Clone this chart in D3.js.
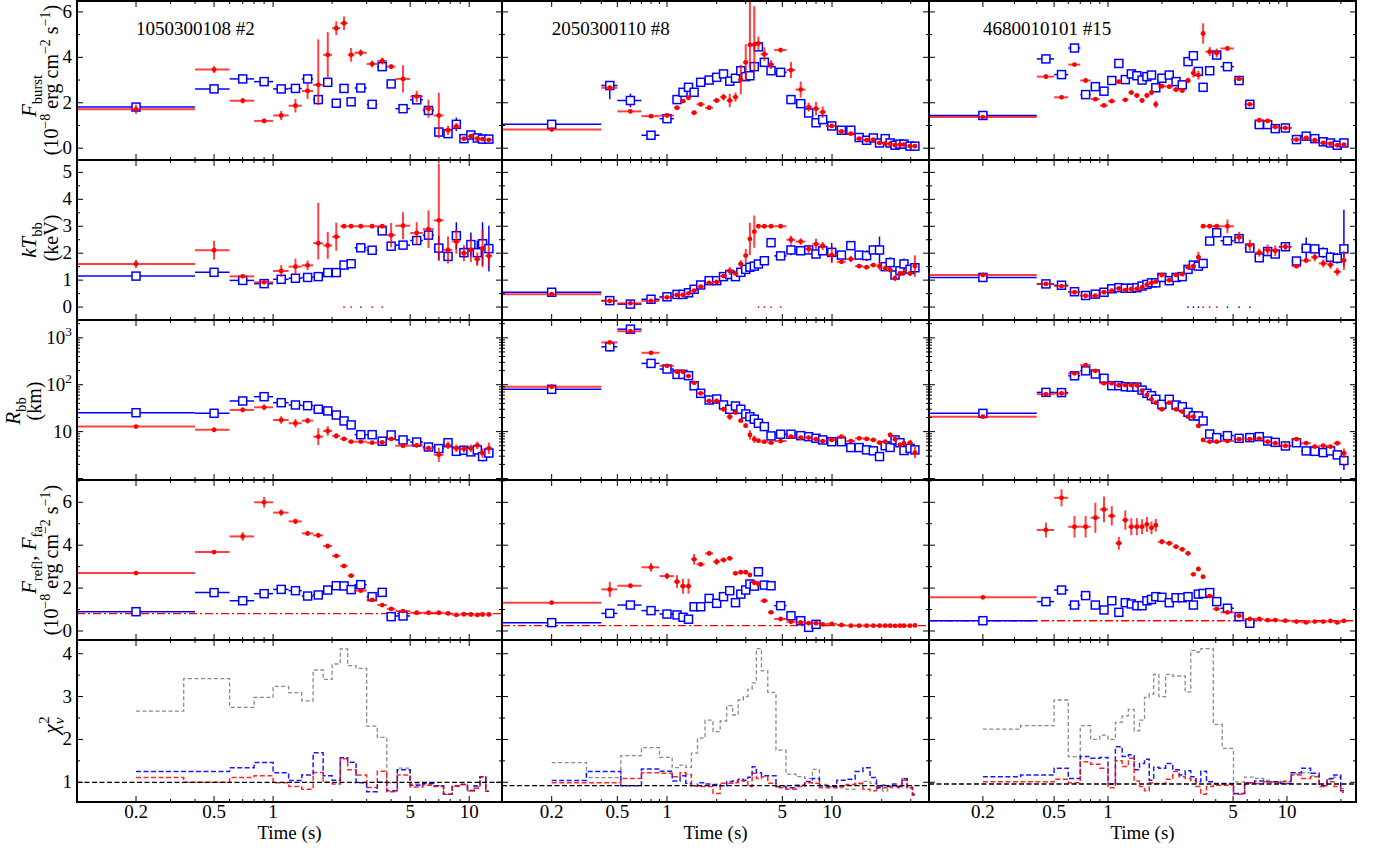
<!DOCTYPE html>
<html><head><meta charset="utf-8">
<script src="https://cdn.jsdelivr.net/npm/d3@7"></script>
<style>
body{margin:0;background:#fff}
svg{display:block}
text{font-family:"Liberation Serif","DejaVu Serif",serif;fill:#000}
</style></head>
<body><svg id="chart" width="1384" height="854"></svg>
<script>
// ---------- burst 1050300108 #2 ----------
const t2  = [0.2,0.5,0.7,0.9,1.1,1.3,1.5,1.7,1.9,2.1,2.3,2.5,2.8,3.2,3.6,4.0,4.6,5.4,6.2,7.0,7.8,8.6,9.4,10.2,11.0,11.7,12.6];
const dt2 = [0.2,0.1,0.1,0.1,0.1,0.1,0.1,0.1,0.1,0.1,0.1,0.1,0.2,0.2,0.2,0.2,0.4,0.4,0.4,0.4,0.4,0.4,0.4,0.4,0.4,0.3,0.5];
const fb2Red     = [1.71,3.46,2.09,1.20,1.44,1.87,2.52,2.79,4.11,5.28,5.50,4.11,4.20,3.71,3.84,3.59,3.05,2.28,1.74,1.44,0.79,0.96,0.42,0.53,0.42,0.40,0.37];
const fb2RedErr  = [0.2,0.15,0.12,0.1,0.2,0.3,0.35,[0.9,2.0],1.0,0.3,0.3,0.3,0.15,0.15,0.15,0.1,0.6,0.25,0.4,1.0,0.2,0.15,0.05,0.08,0.05,0.08,0.06];
const fb2Blue    = [1.81,2.61,3.05,2.93,2.61,2.63,3.05,2.14,2.90,1.98,2.63,2.04,2.65,1.93,3.59,2.83,1.74,2.13,1.66,0.71,0.64,1.05,0.42,0.58,0.45,0.40,0.40];
const fb2BlueErr = [0.05,0.06,0.06,0.06,0.06,0.08,0.1,0.1,0.08,0.06,0.08,0.06,0.08,0.06,0.1,0.08,0.06,0.15,0.1,0.06,0.1,0.3,0.06,0.12,0.08,0.2,0.15];
const kt2Red     = [1.60,2.11,1.14,0.92,1.34,1.50,1.55,2.37,2.29,2.61,3.0,3.0,3.0,3.0,3.0,2.67,3.02,2.75,2.89,3.22,2.12,2.43,2.00,2.12,1.78,2.18,1.90];
const kt2RedErr  = [0.15,0.35,0.05,0.05,0.22,0.3,0.18,[0.6,1.5],0.5,0.52,0,0,0,0,0,0.45,0.5,0.4,0.7,[1.5,2.1],0.5,0.45,0.3,0.45,0.25,0.7,0.4];
const kt2Blue    = [1.15,1.29,0.99,0.87,1.03,1.07,1.10,1.13,1.28,1.28,1.56,1.61,2.20,2.11,2.83,2.26,2.30,2.47,2.67,2.19,1.88,2.65,2.02,2.32,2.02,2.35,2.17];
const kt2BlueErr = [0.03,0.03,0.03,0.03,0.03,0.03,0.03,0.03,0.03,0.03,0.05,0.05,0.08,0.08,0.1,0.08,0.08,0.1,0.1,0.45,0.12,0.5,0.2,0.45,0.45,0.8,0.85];
const kt2ZeroRed = [2.3,2.5,2.8,3.2,3.6];
const r2Red      = [12.8,10.9,29,33,17.7,15.1,17.1,7.8,10.3,8.1,7.0,6.1,6.1,5.8,5.9,7.0,5.0,5.1,4.4,3.2,5.1,4.4,4.3,4.4,5.1,3.47,4.4];
const r2RedDex   = [0.03,0.05,0.05,0.06,0.08,0.09,0.06,0.18,0.1,0.06,0.03,0.02,0.02,0.02,0.02,0.04,0.05,0.05,0.06,0.15,0.08,0.08,0.08,0.08,0.08,0.1,0.12];
const r2Blue     = [25.3,24.6,45,55.6,41.4,37,35.7,30,27.6,22.6,16.9,13.9,8.6,8.6,6.25,8.5,6.65,6.0,4.7,4.35,5.8,3.8,4.0,3.7,4.08,2.94,3.5];
const r2BlueDex  = [0.01,0.01,0.01,0.01,0.01,0.01,0.01,0.01,0.01,0.01,0.01,0.01,0.02,0.02,0.02,0.02,0.02,0.02,0.03,0.03,0.05,0.05,0.05,0.06,0.06,0.1,0.1];
const fr2Red     = [2.70,3.68,4.41,6.0,5.52,5.11,4.55,4.46,3.96,3.50,3.03,2.58,1.88,1.45,1.21,1.03,0.93,0.85,0.85,0.85,0.82,0.75,0.78,0.77,0.75,0.77,0.77];
const fr2RedErr  = [0.05,0.08,0.2,0.25,0.15,0.12,0.12,0.12,0.12,0.08,0.06,0.05,0.04,0.04,0.03,0.03,0.03,0.03,0.03,0.03,0.03,0.03,0.03,0.03,0.03,0.03,0.03];
const fr2Blue    = [0.90,1.79,1.41,1.74,1.94,1.88,1.63,1.68,1.91,2.11,2.10,1.93,2.16,1.60,1.80,0.67,0.70,null,null,null,null,null,null,null,null,null,null];
const fr2BlueErr = [0.04,0.04,0.04,0.04,0.04,0.04,0.04,0.04,0.04,0.04,0.04,0.04,0.04,0.04,0.04,0.04,0.04,0,0,0,0,0,0,0,0,0,0];
const fPers2 = 0.81;
const chiGrey2 = [2.66,3.42,2.75,2.98,3.24,3.09,2.90,3.62,3.40,3.76,4.11,3.72,3.66,2.31,2.05,0.99,1.33,0.96,0.96,0.92,0.72,0.90,0.95,0.80,0.90,1.13,0.79];
const chiBlue2 = [1.25,1.25,1.34,1.46,1.22,1.04,1.17,1.69,1.15,1.05,1.57,1.47,0.99,0.78,1.0,0.80,1.29,0.93,0.97,0.92,0.72,0.92,0.95,0.81,0.92,1.13,0.79];
const chiRed2  = [1.11,1.0,1.11,1.15,0.99,0.90,0.84,1.23,1.0,0.96,1.55,1.29,1.17,0.88,1.26,0.78,1.17,0.89,0.93,0.90,0.72,0.92,0.95,0.80,0.86,1.13,0.79];
const chiRef2 = 1.0;

// ---------- burst 2050300110 #8 ----------
const t8  = [0.2,0.45,0.6,0.8,1.0,1.15,1.25,1.35,1.46,1.6,1.8,2.0,2.2,2.4,2.6,2.8,3.0,3.18,3.38,3.58,3.89,4.27,4.88,5.64,6.46,7.22,8.0,8.78,9.96,11.4,13.0,14.6,16.2,17.8,19.4,21.0,22.5,24.1,25.8,27.3,29.7,31.8];
const dt8 = [0.2,0.05,0.1,0.1,0.1,0.05,0.05,0.05,0.06,0.09,0.1,0.1,0.1,0.1,0.1,0.1,0.1,0.09,0.1,0.1,0.2,0.18,0.42,0.35,0.45,0.35,0.4,0.4,0.75,0.7,0.8,0.8,0.8,0.8,0.8,0.75,0.75,0.8,0.8,0.75,1.1,0.9];
const fb8Red     = [0.82,2.66,1.62,1.41,1.44,1.78,2.07,2.22,1.56,1.93,1.78,2.10,2.25,2.10,2.25,3.02,3.78,4.55,4.55,4.61,4.14,3.68,4.32,3.44,2.58,1.81,1.74,1.59,0.98,0.74,0.64,0.42,0.35,0.38,0.23,0.20,0.20,0.13,0.16,0.16,0.09,0.09];
const fb8RedErr  = [0.05,0.1,0.05,0.05,0.05,0.06,0.06,0.08,0.08,0.1,0.1,0.1,0.15,0.3,0.2,0.65,0.8,[1.0,2.0],[1.2,1.7],0.3,0.3,0.2,0.1,0.35,0.35,0.2,0.3,0.25,0.05,0.05,0.05,0.05,0.04,0.04,0.04,0.04,0.04,0.04,0.04,0.04,0.04,0.04];
const fb8Blue    = [1.05,2.76,2.10,0.57,1.30,2.14,2.46,2.68,2.46,2.90,3.0,3.12,3.27,2.95,3.08,3.41,3.15,3.19,3.59,4.46,3.78,3.41,3.34,2.14,1.96,1.55,1.12,1.26,0.98,0.79,0.79,0.47,0.35,0.45,0.23,0.42,0.23,0.13,0.18,0.18,0.09,0.09];
const fb8BlueErr = [0.05,[0.6,0.15],0.3,0.06,0.06,0.06,0.06,0.06,0.06,0.06,0.06,0.06,0.06,0.06,0.06,0.06,0.06,0.06,0.06,0.06,0.06,0.06,0.06,0.06,0.06,0.06,0.06,0.06,0.05,0.05,0.05,0.05,0.05,0.05,0.05,0.05,0.05,0.05,0.04,0.04,0.04,0.04];
const kt8Red     = [0.48,0.23,0.14,0.23,0.36,0.45,0.45,0.51,0.61,0.76,0.90,0.93,1.15,1.34,1.25,1.60,1.91,2.53,2.80,3.0,3.0,3.0,3.0,2.50,2.43,2.16,2.34,2.27,1.93,1.68,1.78,1.52,1.48,1.56,1.52,1.44,1.38,1.07,1.25,1.28,1.25,1.52];
const kt8RedErr  = [0.03,0.02,0.02,0.02,0.03,0.03,0.03,0.04,0.04,0.05,0.05,0.05,0.06,0.15,0.08,0.15,0.25,0.6,0.6,0,0,0,0,0.15,0.12,0.15,0.2,0.15,0.3,0.08,0.12,0.08,0.08,0.08,0.15,0.1,0.1,0.1,0.1,0.1,0.1,0.4];
const kt8Blue    = [0.55,0.24,0.11,0.29,0.38,0.47,0.47,0.53,0.66,0.82,0.98,0.98,1.13,1.21,1.13,1.29,1.40,1.48,1.52,1.60,1.72,2.39,1.90,2.12,2.09,2.12,1.97,2.09,2.03,1.93,2.28,1.93,1.91,2.12,2.12,1.50,1.65,1.19,1.35,1.60,1.40,1.46];
const kt8BlueErr = [0.04,0.04,0.04,0.04,0.04,0.04,0.04,0.04,0.04,0.04,0.04,0.04,0.04,0.04,0.04,0.04,0.04,0.04,0.04,0.04,0.04,0.04,0.04,0.2,0.04,0.04,0.04,0.15,0.35,0.06,0.15,0.15,0.2,0.15,0.5,0.08,0.2,0.08,0.08,0.2,0.1,0.1];
const kt8ZeroRed = [3.58,3.89,4.27,4.88];
const r8Red      = [90.5,798,1380,480,253,189,189,153,110,65.5,45,45,30,20.8,25.7,17.1,13.4,8.5,6.9,6.4,6.1,5.8,6.3,7.8,7.45,7.45,6.9,6.3,6.65,7.8,6.3,7.2,7.0,6.65,5.8,6.1,8.5,6.9,5.2,5.66,5.8,3.57];
const r8RedDex   = [0.02,0.03,0.03,0.03,0.03,0.03,0.03,0.03,0.03,0.03,0.03,0.03,0.04,0.07,0.05,0.05,0.05,0.1,0.08,0.03,0.03,0.03,0.03,0.04,0.04,0.04,0.04,0.04,0.04,0.04,0.04,0.04,0.04,0.04,0.04,0.04,0.05,0.05,0.05,0.05,0.05,0.12];
const r8Blue     = [79.8,644,1530,285,216,166,166,156,95,65.5,47.2,49.6,37,30,35.2,30,23.8,20.8,18.4,15.1,12.8,8.1,8.8,8.8,8.2,7.8,7.2,6.65,6.1,6.1,4.57,4.57,4.08,3.9,2.94,5.0,4.6,6.65,5.8,3.95,4.4,4.08];
const r8BlueDex  = [0.02,0.1,0.03,0.02,0.02,0.02,0.02,0.02,0.02,0.02,0.02,0.02,0.02,0.02,0.02,0.02,0.02,0.02,0.02,0.02,0.02,0.02,0.02,0.02,0.02,0.02,0.02,0.02,0.02,0.02,0.02,0.02,0.02,0.02,0.02,0.02,0.02,0.02,0.02,0.02,0.02,0.02];
const fr8Red     = [1.32,1.94,2.11,2.97,2.56,2.30,2.09,2.09,3.34,3.11,3.62,3.23,3.31,3.39,2.69,2.74,2.74,2.61,2.25,2.19,1.41,0.87,0.56,0.43,0.40,0.36,0.36,0.31,0.33,0.28,0.25,0.25,0.25,0.25,0.25,0.25,0.25,0.24,0.25,0.25,0.25,0.26];
const fr8RedErr  = [0.03,0.35,0.08,0.2,0.15,0.3,0.35,0.35,0.25,0.1,0.12,0.15,0.1,0.1,0.08,0.08,0.08,0.05,0.05,0.05,0.05,0.04,0.03,0.03,0.03,0.03,0.03,0.03,0.03,0.03,0.03,0.03,0.03,0.03,0.03,0.03,0.03,0.03,0.03,0.03,0.03,0.03];
const fr8Blue    = [0.39,0.82,1.21,0.95,0.79,0.75,0.64,0.55,1.13,1.13,1.52,1.29,1.60,1.88,1.32,1.72,1.91,2.19,2.09,2.76,2.14,2.11,1.18,0.71,0.48,0.17,0.31,null,null,null,null,null,null,null,null,null,null,null,null,null,null,null];
const fr8BlueErr = [0.03,0.2,0.05,0.05,0.05,0.05,0.05,0.05,0.05,0.05,0.05,0.05,0.05,0.05,0.05,0.05,0.05,0.05,0.05,0.05,0.05,0.05,0.05,0.05,0.05,0.05,0.05,0,0,0,0,0,0,0,0,0,0,0,0,0,0,0];
const fPers8 = 0.25;
const chiGrey8 = [1.46,1.11,1.62,1.81,1.58,1.34,1.40,1.35,1.68,2.03,2.45,2.18,2.43,2.79,2.57,2.92,3.0,3.17,3.32,4.12,3.60,3.10,1.75,1.19,1.13,1.09,1.30,0.95,0.90,0.87,0.84,0.96,1.02,0.98,0.85,0.80,0.87,0.90,0.92,1.09,0.90,0.70];
const chiBlue8 = [1.04,1.25,0.92,1.31,1.26,1.03,1.15,0.98,0.92,0.99,0.96,0.95,0.92,1.02,1.03,1.07,1.05,1.12,1.36,1.22,1.15,1.15,0.90,0.87,0.93,1.02,1.09,0.92,0.90,1.05,1.07,1.25,1.34,1.11,0.87,0.93,0.90,0.96,0.90,1.08,0.87,0.72];
const chiRed8  = [0.99,0.99,1.09,1.22,1.21,1.13,1.22,1.18,0.92,0.90,0.90,0.74,0.98,0.98,0.99,1.04,1.02,0.90,1.21,1.09,1.13,0.98,0.87,0.84,0.90,0.99,0.98,0.87,0.87,0.90,0.95,0.98,0.84,0.80,0.90,0.87,0.90,0.90,0.87,1.05,0.87,0.70];
const chiRef8 = 0.92;

// ---------- burst 4680010101 #15 ----------
const t15  = [0.2,0.45,0.55,0.65,0.75,0.85,0.95,1.05,1.15,1.25,1.35,1.45,1.55,1.65,1.75,1.85,2.0,2.2,2.4,2.6,2.8,3.0,3.2,3.4,3.7,4.05,4.65,5.4,6.2,7.0,7.8,8.6,9.8,11.3,12.8,14.3,15.95,17.5,19.1,20.8];
const dt15 = [0.2,0.05,0.05,0.05,0.05,0.05,0.05,0.05,0.05,0.05,0.05,0.05,0.05,0.05,0.05,0.05,0.1,0.1,0.1,0.1,0.1,0.1,0.1,0.1,0.2,0.2,0.4,0.35,0.4,0.4,0.4,0.4,0.8,0.7,0.8,0.7,0.9,0.7,0.9,0.7];
const fb15Red     = [1.37,3.15,2.24,3.68,2.98,2.16,1.88,2.07,2.93,2.13,2.45,2.32,2.10,2.32,2.45,1.93,2.73,2.71,2.58,2.54,2.98,3.31,3.22,5.05,4.25,4.19,4.39,3.05,1.93,1.23,1.20,0.93,0.89,0.38,0.45,0.35,0.23,0.20,0.13,0.16];
const fb15RedErr  = [0.05,0.1,0.06,0.06,0.06,0.06,0.06,0.06,0.08,0.06,0.1,0.1,0.1,0.12,0.12,0.15,0.1,0.08,0.1,0.1,0.12,0.2,0.2,0.45,0.2,0.2,0.1,0.08,0.05,0.04,0.04,0.04,0.04,0.04,0.04,0.04,0.04,0.04,0.04,0.04];
const fb15Blue    = [1.44,3.93,3.24,4.41,2.36,2.71,2.51,2.98,3.73,3.02,3.27,3.19,3.0,3.15,3.22,2.66,3.08,3.22,2.93,2.79,3.81,4.07,3.38,2.68,3.41,4.10,3.59,2.98,1.93,1.04,1.04,0.86,0.89,0.38,0.53,0.42,0.28,0.23,0.13,0.23];
const fb15BlueErr = [0.05,0.08,0.08,0.06,0.06,0.06,0.06,0.06,0.06,0.06,0.06,0.06,0.06,0.06,0.06,0.06,0.06,0.06,0.06,0.06,0.06,0.06,0.06,0.06,0.06,0.06,0.06,0.06,0.06,0.04,0.04,0.04,0.04,0.04,0.04,0.04,0.04,0.04,0.04,0.04];
const kt15Red     = [1.19,0.86,0.78,0.55,0.42,0.42,0.55,0.61,0.69,0.63,0.67,0.67,0.73,0.83,0.90,0.94,1.19,1.00,1.19,1.22,1.48,1.52,1.85,3.0,3.0,3.0,3.0,2.59,2.30,2.02,2.12,2.09,2.24,1.52,1.73,1.85,1.62,1.57,1.31,1.73];
const kt15RedErr  = [0.05,0.03,0.03,0.03,0.03,0.03,0.03,0.03,0.03,0.03,0.03,0.03,0.03,0.04,0.04,0.04,0.06,0.05,0.06,0.06,0.08,0.08,0.2,0,0,0,0.25,0.2,0.2,0.15,0.2,0.2,0.15,0.08,0.1,0.15,0.15,0.15,0.15,0.35];
const kt15Blue    = [1.10,0.86,0.81,0.57,0.43,0.48,0.55,0.68,0.72,0.70,0.70,0.72,0.78,0.84,0.90,0.90,1.10,0.98,1.10,1.13,1.40,1.56,1.52,1.62,2.45,2.76,2.46,2.54,2.19,1.83,2.06,1.97,2.24,1.71,2.18,2.16,2.02,1.85,1.81,2.16];
const kt15BlueErr = [0.03,0.03,0.03,0.03,0.03,0.03,0.03,0.03,0.03,0.03,0.03,0.03,0.03,0.03,0.03,0.03,0.03,0.03,0.03,0.03,0.03,0.03,0.03,0.03,0.05,0.05,0.05,0.05,0.05,0.05,0.06,0.06,0.08,0.08,0.4,0.15,0.2,0.2,0.2,[0.65,1.45]];
const kt15ZeroRed  = [3.4,3.7,4.05];
const kt15ZeroBlue = [2.8,3.0,3.2,4.65,5.4,6.2];
const r15Red      = [20.8,63,65,175,262,198,107,107,97.5,98,98,97.5,74.5,60.3,48.9,41.4,29.9,41.4,29.9,26.7,20.8,20.8,13.2,6.65,6.1,6.1,6.3,6.9,6.9,7.1,6.1,5.66,5.0,6.9,5.66,4.8,5.0,4.8,5.66,3.47];
const r15RedDex   = [0.02,0.02,0.02,0.03,0.03,0.03,0.03,0.03,0.02,0.02,0.02,0.02,0.02,0.02,0.02,0.02,0.02,0.02,0.02,0.02,0.02,0.02,0.03,0.03,0.02,0.02,0.02,0.02,0.02,0.02,0.03,0.03,0.03,0.04,0.04,0.04,0.04,0.04,0.05,0.1];
const r15Blue     = [24.5,68.7,68,155,198,169,137,95.5,95.5,90.6,89,89,77,65.5,58.4,48.9,38.2,48.9,36.9,34,25.8,21.6,21.6,16.9,8.9,7.45,8.2,7.2,7.45,7.8,6.3,5.9,4.95,5.8,3.88,3.8,3.57,3.88,3.19,2.42];
const r15BlueDex  = [0.01,0.02,0.02,0.02,0.02,0.02,0.02,0.02,0.02,0.02,0.02,0.02,0.02,0.02,0.02,0.02,0.02,0.02,0.02,0.02,0.02,0.02,0.02,0.02,0.02,0.02,0.02,0.02,0.02,0.02,0.02,0.02,0.03,0.03,0.03,0.03,0.03,0.03,0.04,[0.2,0.05]];
const fr15Red     = [1.57,4.71,6.21,4.86,4.86,5.28,5.67,5.37,4.09,5.17,4.86,4.86,4.86,4.97,4.81,4.93,4.16,4.09,3.93,3.81,3.62,2.64,2.89,2.53,1.63,1.03,0.87,0.71,0.56,0.56,0.51,0.51,0.48,0.44,0.40,0.44,0.44,0.47,0.40,0.47];
const fr15RedErr  = [0.03,0.35,0.4,0.5,0.5,0.7,0.6,0.45,0.3,0.45,0.4,0.4,0.35,0.35,0.3,0.3,0.12,0.1,0.1,0.1,0.1,0.08,0.08,0.08,0.06,0.05,0.04,0.03,0.03,0.03,0.03,0.03,0.03,0.03,0.03,0.03,0.03,0.03,0.03,0.03];
const fr15Blue    = [0.48,1.37,1.91,1.21,1.65,1.21,0.98,1.41,0.87,1.32,1.26,1.18,1.18,1.41,1.47,1.60,1.57,1.32,1.55,1.55,1.60,1.21,1.72,1.75,1.79,1.37,1.06,0.67,0.36,null,null,null,null,null,null,null,null,null,null,null];
const fr15BlueErr = [0.03,0.06,0.06,0.06,0.06,0.06,0.06,0.06,0.06,0.06,0.06,0.06,0.06,0.06,0.06,0.06,0.06,0.06,0.06,0.06,0.06,0.06,0.06,0.06,0.06,0.06,0.05,0.05,0.05,0,0,0,0,0,0,0,0,0,0,0];
const fPers15 = 0.48;
const chiGrey15 = [2.24,2.32,2.92,1.60,2.32,2.0,2.10,2.0,2.40,2.55,2.70,2.20,2.45,2.98,3.06,3.52,3.0,3.52,3.48,3.48,3.11,4.08,4.04,4.12,4.12,2.35,1.79,1.01,1.12,1.09,1.05,1.01,1.03,1.19,1.22,1.15,0.93,1.07,1.12,0.85];
const chiBlue15 = [1.13,1.17,1.33,1.09,1.60,1.56,1.58,0.96,1.83,1.60,1.64,1.29,1.44,1.54,1.05,1.35,1.33,1.44,1.29,1.17,1.27,1.13,1.01,1.26,1.01,0.97,0.97,0.74,0.99,1.03,1.01,1.01,0.97,1.22,1.33,1.21,0.92,1.09,1.17,0.80];
const chiRed15  = [1.01,1.01,1.07,0.99,1.48,1.42,1.33,0.87,1.50,1.37,1.56,1.03,0.90,0.80,0.99,0.97,0.97,1.07,1.25,1.13,1.09,1.05,0.90,0.72,0.90,0.93,0.93,0.72,0.99,0.97,1.01,0.99,1.01,1.17,1.09,1.13,0.90,1.01,0.90,0.77];
const chiRef15 = 0.96;

// ---------- axis text ----------
const burstTitles = ["1050300108 #2", "2050300110 #8", "4680010101 #15"];
const timeTickLabels = [0.2, 0.5, 1, 5, 10];
const xAxisTitle = "Time (s)";

// ---------- assemble per-burst tables ----------
const bursts = [
  {t:t2, dt:dt2, fb:[fb2Red,fb2RedErr,fb2Blue,fb2BlueErr], kt:[kt2Red,kt2RedErr,kt2Blue,kt2BlueErr],
   ktZero:{red:kt2ZeroRed, blue:[]}, r:[r2Red,r2RedDex,r2Blue,r2BlueDex], fr:[fr2Red,fr2RedErr,fr2Blue,fr2BlueErr],
   fPers:fPers2, chi:[chiGrey2,chiBlue2,chiRed2], chiRef:chiRef2},
  {t:t8, dt:dt8, fb:[fb8Red,fb8RedErr,fb8Blue,fb8BlueErr], kt:[kt8Red,kt8RedErr,kt8Blue,kt8BlueErr],
   ktZero:{red:kt8ZeroRed, blue:[]}, r:[r8Red,r8RedDex,r8Blue,r8BlueDex], fr:[fr8Red,fr8RedErr,fr8Blue,fr8BlueErr],
   fPers:fPers8, chi:[chiGrey8,chiBlue8,chiRed8], chiRef:chiRef8},
  {t:t15, dt:dt15, fb:[fb15Red,fb15RedErr,fb15Blue,fb15BlueErr], kt:[kt15Red,kt15RedErr,kt15Blue,kt15BlueErr],
   ktZero:{red:kt15ZeroRed, blue:kt15ZeroBlue}, r:[r15Red,r15RedDex,r15Blue,r15BlueDex], fr:[fr15Red,fr15RedErr,fr15Blue,fr15BlueErr],
   fPers:fPers15, chi:[chiGrey15,chiBlue15,chiRed15], chiRef:chiRef15}
];

// ---------- layout ----------
const colX = [[77,502],[502,929],[929,1356]];
const rowY = [[1,160],[160,320],[320,480],[480,640],[640,802]];
const timeDomains = [[0.1,14.7],[0.1,38.7],[0.1,24.3]];
const rows = [
  {key:'fb',  log:false, domain:[-0.52,6.48], major:[0,2,4,6],   minor:[1,3,5]},
  {key:'kt',  log:false, domain:[-0.48,5.46], major:[0,1,2,3,4,5], minor:[0.5,1.5,2.5,3.5,4.5]},
  {key:'r',   log:true,  domain:[0.93,2400],  major:[1,10,100,1000], minor:null},
  {key:'fr',  log:false, domain:[-0.42,7.04], major:[0,2,4,6],   minor:[1,3,5,7]},
  {key:'chi', log:false, domain:[0.54,4.32],  major:[1,2,3,4],   minor:[1.5,2.5,3.5]}
];

const RED = '#ff0000', BLUE = '#0000ff';
const svg = d3.select('#chart');
const defs = svg.append('defs');
const plotLayer = svg.append('g');
const frameLayer = svg.append('g');

function errPair(e){ return Array.isArray(e) ? e : [e, e]; }

function rich(sel, parts, fs){
  let cur = 0;
  parts.forEach(p => {
    let target = 0, size = fs;
    if (p.k === 'sub') { target = fs*0.28; size = fs*0.7; }
    if (p.k === 'sup') { target = -fs*0.42; size = fs*0.7; }
    const ts = sel.append('tspan').text(p.s).attr('font-size', size);
    if (target - cur !== 0) ts.attr('dy', target - cur);
    if (p.dx) ts.attr('dx', p.dx);
    if (p.i) ts.attr('font-style', 'italic');
    cur = target;
  });
}

function drawPoints(g, x, y, b, vals, errs, color, isLog, marker){
  const pts = vals.map((v,i) => ({t:b.t[i], dt:b.dt[i], v, e:errPair(errs[i])})).filter(d => d.v != null);
  const left = x.range()[0] - 20;
  const eg = g.append('g').attr('stroke', color)
      .attr('stroke-width', marker === 'square' ? 1.5 : 2)
      .attr('stroke-opacity', marker === 'square' ? 1 : 0.75);
  eg.selectAll('line.h').data(pts).join('line')
    .attr('x1', d => d.t - d.dt > 0 ? x(d.t - d.dt) : left)
    .attr('x2', d => x(d.t + d.dt))
    .attr('y1', d => y(d.v)).attr('y2', d => y(d.v));
  eg.selectAll('line.v').data(pts.filter(d => d.e[0] > 0 || d.e[1] > 0)).join('line')
    .attr('x1', d => x(d.t)).attr('x2', d => x(d.t))
    .attr('y1', d => isLog ? y(d.v * Math.pow(10, -d.e[0])) : y(d.v - d.e[0]))
    .attr('y2', d => isLog ? y(d.v * Math.pow(10,  d.e[1])) : y(d.v + d.e[1]));
  if (marker === 'square') {
    g.append('g').selectAll('rect').data(pts).join('rect')
      .attr('x', d => x(d.t) - 4).attr('y', d => y(d.v) - 4)
      .attr('width', 8).attr('height', 8)
      .attr('fill', '#fff').attr('stroke', color).attr('stroke-width', 1.5);
  } else {
    g.append('g').selectAll('circle').data(pts).join('circle')
      .attr('cx', d => x(d.t)).attr('cy', d => y(d.v)).attr('r', 2.4).attr('fill', color);
  }
}

function stepPath(x, y, t, vals){
  let p = `M${x(t[0])},${y(vals[0])}`;
  for (let i = 1; i < t.length; i++) {
    const m = (t[i-1] + t[i]) / 2;
    p += `H${x(m)}V${y(vals[i])}`;
  }
  return p + `H${x(t[t.length-1])}`;
}

function logTickValues(lo, hi){
  const out = [];
  for (let d = -2; d <= 4; d++) for (let k = 1; k < 10; k++) {
    const v = +(k * Math.pow(10, d)).toPrecision(6);
    if (v > lo * 1.0001 && v < hi * 0.9999) out.push(v);
  }
  return out;
}

bursts.forEach((b, ci) => {
  const [x0, x1] = colX[ci];
  const x = d3.scaleLog().domain(timeDomains[ci]).range([x0, x1]);

  rows.forEach((row, ri) => {
    const [yTop, yBot] = rowY[ri];
    const y = (row.log ? d3.scaleLog() : d3.scaleLinear()).domain(row.domain).range([yBot, yTop]);
    const clipId = `clip-${ci}-${ri}`;
    defs.append('clipPath').attr('id', clipId).append('rect')
      .attr('x', x0).attr('y', yTop).attr('width', x1 - x0).attr('height', yBot - yTop);
    const g = plotLayer.append('g').attr('clip-path', `url(#${clipId})`);

    if (row.key === 'chi') {
      const [grey, blue, red] = b.chi;
      [[grey, '#8a8a8a', 1.3, '4,2.5', 1], [blue, BLUE, 1.5, '5,2.5', 0.9], [red, RED, 1.5, '5,2.5', 0.85]]
        .forEach(([vals, col, w, dash, op]) => {
          g.append('path').attr('d', stepPath(x, y, b.t, vals))
            .attr('fill', 'none').attr('stroke', col).attr('stroke-width', w)
            .attr('stroke-dasharray', dash).attr('stroke-opacity', op);
        });
      g.append('line').attr('x1', x0).attr('x2', x1)
        .attr('y1', y(b.chiRef)).attr('y2', y(b.chiRef))
        .attr('stroke', '#000').attr('stroke-width', 1.3).attr('stroke-dasharray', '5,2.5');
    } else {
      const [rv, re, bv, be] = b[row.key];
      if (row.key === 'fr') {
        g.append('line').attr('x1', x0).attr('x2', x1)
          .attr('y1', y(b.fPers)).attr('y2', y(b.fPers))
          .attr('stroke', RED).attr('stroke-width', 1.4).attr('stroke-dasharray', '8,3,2,3');
      }
      if (row.key === 'kt') {
        g.selectAll('circle.zb').data(b.ktZero.blue).join('circle')
          .attr('cx', d => x(d)).attr('cy', y(0)).attr('r', 0.9).attr('fill', BLUE);
        g.selectAll('circle.zr').data(b.ktZero.red).join('circle')
          .attr('cx', d => x(d)).attr('cy', y(0)).attr('r', 0.9).attr('fill', RED);
      }
      drawPoints(g, x, y, b, bv, be, BLUE, row.log, 'square');
      drawPoints(g, x, y, b, rv, re, RED, row.log, 'dot');
    }

    // ticks, pointing inwards on all four sides
    const f = frameLayer.append('g').attr('stroke', '#000').attr('stroke-width', 1);
    const xt = logTickValues(timeDomains[ci][0], timeDomains[ci][1]);
    xt.forEach(v => {
      const len = timeTickLabels.includes(v) ? 6 : 3;
      f.append('line').attr('x1', x(v)).attr('x2', x(v)).attr('y1', yBot).attr('y2', yBot - len);
      f.append('line').attr('x1', x(v)).attr('x2', x(v)).attr('y1', yTop).attr('y2', yTop + len);
    });
    const yMinor = row.log ? logTickValues(row.domain[0], row.domain[1]).filter(v => !row.major.includes(v)) : row.minor;
    const yMajor = row.major.filter(v => v > row.domain[0] && v < row.domain[1]);
    [[yMajor, 6], [yMinor.filter(v => v > row.domain[0] && v < row.domain[1]), 3]].forEach(([vals, len]) => {
      vals.forEach(v => {
        f.append('line').attr('x1', x0).attr('x2', x0 + len).attr('y1', y(v)).attr('y2', y(v));
        f.append('line').attr('x1', x1).attr('x2', x1 - len).attr('y1', y(v)).attr('y2', y(v));
      });
    });
    frameLayer.append('rect').attr('x', x0).attr('y', yTop).attr('width', x1 - x0).attr('height', yBot - yTop)
      .attr('fill', 'none').attr('stroke', '#000').attr('stroke-width', 2);

    // y tick labels on the first column only
    if (ci === 0) {
      yMajor.forEach(v => {
        if (row.log && v < 10) return;
        const tx = frameLayer.append('text').attr('x', 72).attr('y', y(v) + 6)
          .attr('text-anchor', 'end').attr('font-size', 19);
        if (row.log) {
          const e = Math.round(Math.log10(v));
          if (e === 1) tx.text('10');
          else rich(tx, [{s:'10'}, {s:String(e), k:'sup'}], 19);
        } else {
          tx.text(String(v));
        }
      });
    }

    // x tick labels and axis title on the bottom row
    if (ri === rows.length - 1) {
      timeTickLabels.forEach(v => {
        frameLayer.append('text').attr('x', x(v)).attr('y', 818)
          .attr('text-anchor', 'middle').attr('font-size', 19).text(String(v));
      });
      frameLayer.append('text').attr('x', (x0 + x1) / 2).attr('y', 839)
        .attr('text-anchor', 'middle').attr('font-size', 19).text(xAxisTitle);
    }
  });

  // burst identifier
  frameLayer.append('text').attr('x', x(0.2)).attr('y', 34.5)
    .attr('font-size', 19).text(burstTitles[ci]);
});

// y-axis titles (rotated)
const fluxUnit = [{s:'(10'}, {s:'\u22128', k:'sup'}, {s:' erg cm'}, {s:'\u22122', k:'sup'}, {s:' s'}, {s:'\u22121', k:'sup'}, {s:')'}];
const yTitles = [
  {x:36, y:96,  fs:21, parts:[{s:'F', i:true}, {s:'burst', k:'sub'}]},
  {x:58, y:80,  fs:20, parts:fluxUnit},
  {x:36, y:240, fs:21, parts:[{s:'kT', i:true}, {s:'bb', k:'sub'}]},
  {x:58, y:238, fs:20, parts:[{s:'(keV)'}]},
  {x:20, y:411, fs:21, parts:[{s:'R', i:true}, {s:'bb', k:'sub'}]},
  {x:41, y:401, fs:20, parts:[{s:'(km)'}]},
  {x:36, y:560, fs:21, parts:[{s:'F', i:true}, {s:'refl', k:'sub'}, {s:', '}, {s:'F', i:true}, {s:'fa', k:'sub'}]},
  {x:58, y:560, fs:20, parts:fluxUnit},
  {x:58, y:725, fs:22, parts:[{s:'\u03c7', i:true}, {s:'2', k:'sup'}, {s:'\u03bd', k:'sub', i:true, dx:-8}]}
];
yTitles.forEach(d => {
  const tx = frameLayer.append('text').attr('text-anchor', 'middle')
    .attr('transform', `translate(${d.x},${d.y}) rotate(-90)`).attr('font-size', d.fs);
  rich(tx, d.parts, d.fs);
});
</script></body></html>
